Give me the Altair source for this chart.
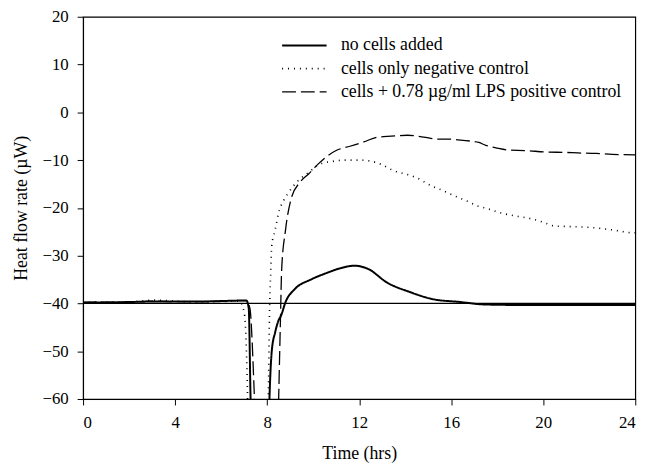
import altair as alt
import pandas as pd

series_names = [
    "no cells added",
    "cells only negative control",
    "cells + 0.78 \u00b5g/ml LPS positive control",
]

# no cells added (solid)
t_solid = [0, 1, 2, 3, 4, 5, 6, 6.8, 7.1, 7.2, 7.28, 7.4, 8.0, 8.1, 8.2, 8.35, 8.5,
           8.6, 8.8, 9.2, 9.9, 10.6, 11.2, 11.8, 12.4, 13.2, 14.2, 15.2, 16.4, 17.4,
           18.5, 20.0, 22.0, 24.0]
v_solid = [-39.8, -39.8, -39.7, -39.6, -39.6, -39.6, -39.5, -39.4, -39.4, -41, -60, -80,
           -80, -60, -50, -46, -43.5, -42.6, -39.7, -37.0, -35.0, -33.6, -32.6, -32.1,
           -32.8, -35.6, -37.6, -39.1, -39.7, -40.2, -40.3, -40.3, -40.3, -40.3]

# cells only negative control (dotted)
t_dot = [0, 1, 2, 3, 4, 5, 6, 6.8, 7.0, 7.1, 7.15, 7.2, 7.9, 8.05, 8.1, 8.15, 8.2, 8.35,
         8.5, 8.7, 8.9, 9.35, 9.8, 10.3, 10.8, 11.4, 12.0, 12.5, 13.0, 13.5, 14.0, 14.5,
         15.1, 15.6, 16.2, 16.7, 17.1, 17.6, 18.2, 18.8, 19.4, 20.0, 20.5, 21.1, 21.7,
         22.3, 23.0, 23.9, 24.0]
v_dot = [-39.8, -39.7, -39.7, -39.3, -39.5, -39.7, -39.6, -39.5, -41.8, -50, -60, -80,
         -80, -60, -42.6, -34.3, -28, -24.6, -21, -18.6, -17, -14.3, -12.6, -10.8, -10.3,
         -10.0, -10.0, -10.2, -11.0, -12.2, -12.9, -13.7, -15.3, -16.3, -17.6, -18.6,
         -19.5, -20.2, -21.1, -21.7, -22.2, -23.0, -23.8, -23.9, -24.0, -24.2, -24.6,
         -25.2, -25.2]

# cells + LPS positive control (dashed)
t_dash = [0, 1, 2, 3, 4, 5, 6, 6.8, 7.1, 7.25, 7.45, 7.6, 8.4, 8.5, 8.58, 8.63, 8.8, 9.06,
          9.4, 9.8, 10.2, 10.6, 11.0, 11.6, 12.2, 12.8, 13.4, 14.1, 14.8, 15.4, 15.8, 16.4,
          16.8, 17.2, 17.5, 18.0, 18.5, 19.2, 20.1, 21.0, 21.5, 22.3, 23.0, 24.0]
v_dash = [-39.8, -39.7, -39.7, -39.5, -39.6, -39.6, -39.5, -39.4, -39.4, -41, -60, -80,
          -80, -60, -43, -33, -24.6, -17.8, -14.8, -12.9, -10.9, -9.2, -8.0, -7.1, -6.2,
          -5.2, -5.0, -4.8, -5.2, -5.6, -5.6, -5.8, -6.0, -6.3, -6.9, -7.5, -7.9, -8.0,
          -8.3, -8.4, -8.5, -8.6, -8.8, -8.9]

x_ticks = [0, 4, 8, 12, 16, 20, 24]
y_ticks = [-60, -50, -40, -30, -20, -10, 0, 10, 20]

rows = []
for name, ts, vs in zip(series_names, [t_solid, t_dot, t_dash], [v_solid, v_dot, v_dash]):
    for i, (t, v) in enumerate(zip(ts, vs)):
        rows.append({"series": name, "t": t, "v": v, "order": i})
df = pd.DataFrame(rows)

FONT = "Liberation Serif"

legend = alt.Legend(
    title=None, orient="none", legendX=214, legendY=19, padding=0,
    symbolType="M-2.5,0H2.5", symbolSize=324, symbolStrokeColor="black",
    labelFont=FONT, labelFontSize=18, labelColor="black",
    labelOffset=27, rowPadding=4.5, labelLimit=450,
)

lines = alt.Chart(df).mark_line(color="black", clip=True, interpolate="monotone").encode(
    x=alt.X("t:Q", scale=alt.Scale(domain=[0, 24], nice=False),
            axis=alt.Axis(values=x_ticks, title="Time (hrs)", titlePadding=14,
                          labelPadding=10)),
    y=alt.Y("v:Q", scale=alt.Scale(domain=[-60, 20], nice=False),
            axis=alt.Axis(values=y_ticks, title="Heat flow rate (\u00b5W)", titlePadding=12,
                          labelPadding=9)),
    order="order:Q",
    strokeDash=alt.StrokeDash(
        "series:N",
        scale=alt.Scale(domain=series_names, range=[[1, 0], [1, 5], [14, 5]]),
        legend=legend,
    ),
    strokeWidth=alt.StrokeWidth(
        "series:N",
        scale=alt.Scale(domain=series_names, range=[2, 1.3, 2.6]),
        legend=legend,
    ),
)

ref = alt.Chart(pd.DataFrame({"y": [-40]})).mark_rule(color="black", strokeWidth=1.2).encode(
    y="y:Q"
)

chart = alt.layer(ref, lines).properties(
    width=559, height=387,
    autosize=alt.AutoSizeParams(type="none"),
    padding={"left": 76, "top": 6, "right": 22, "bottom": 70},
    background="white",
).configure_view(stroke="black", strokeWidth=1.2).configure_axis(
    grid=False, domainColor="black", tickColor="black", labelColor="black",
    titleColor="black", labelFont=FONT, titleFont=FONT, labelFontSize=17,
    titleFontSize=18, titleFontWeight="normal", tickSize=6,
)

chart.save("out.html", embed_options={"renderer": "svg", "actions": False})
